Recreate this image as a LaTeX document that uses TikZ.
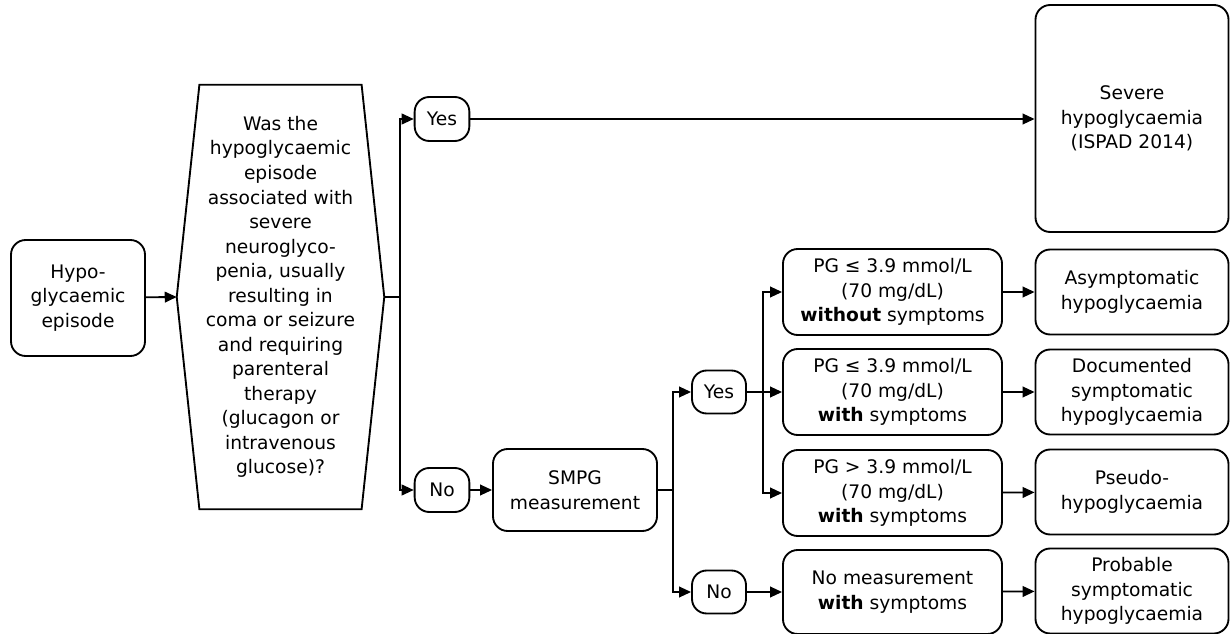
\documentclass[tikz,border=0pt]{standalone}
\usepackage{fontspec}
\setmainfont{DejaVu Sans}
\usetikzlibrary{arrows.meta,positioning}

\tikzset{
  box/.style={draw,rounded corners=11pt,align=center,inner sep=0pt,line width=1.4pt,
    font=\fontsize{14}{18.4}\selectfont},
  ans/.style={box,minimum width=41pt,minimum height=33pt},
  test/.style={box,minimum width=164.25pt,minimum height=64.5pt},
  result/.style={box,minimum width=144.75pt,minimum height=63.75pt},
  link/.style={line width=1.4pt},
  arr/.style={link,-{Triangle[length=9pt,width=8pt]}}
}

\begin{document}
\begin{tikzpicture}[x=0.75pt,y=-0.75pt]
        \useasboundingbox (0,0) rectangle (1230,634);
        % start and question
        \node[box,minimum width=100.5pt,minimum height=87pt] (hypo) at (78,298) {Hypo-\\glycaemic\\episode};
        \node[align=center,inner sep=0pt,minimum width=155.25pt,minimum height=318pt,
              font=\fontsize{14}{18.4}\selectfont] (quest) at (280.5,297)
              {Was the\\hypoglycaemic\\episode\\associated with\\severe\\neuroglyco-\\penia, usually\\resulting in\\coma or seizure\\and requiring\\parenteral\\therapy\\(glucagon or\\intravenous\\glucose)?};
        \draw[link] (quest.west) -- ([xshift=17pt]quest.north west) -- ([xshift=-17pt]quest.north east)
              -- (quest.east) -- ([xshift=-17pt]quest.south east) -- ([xshift=17pt]quest.south west) -- cycle;
        % answers
        \node[ans] (yes) at (442,119) {Yes};
        \node[ans] (no) at (442,490) {No};
        \node[box,minimum width=123pt,minimum height=61.5pt] (smpg) at (575,490) {SMPG\\measurement};
        \node[ans,minimum width=40.5pt,minimum height=32.25pt] (yes2) at (719,392) {Yes};
        \node[ans,minimum width=40.5pt,minimum height=32.25pt] (no2) at (719,592) {No};
        % measurements
        \node[test] (pg1) at (892.5,292) {PG ≤ 3.9 mmol/L\\(70 mg/dL)\\\textbf{without} symptoms};
        \node[test] (pg2) at (892.5,392) {PG ≤ 3.9 mmol/L\\(70 mg/dL)\\\textbf{with} symptoms};
        \node[test] (pg3) at (892.5,493) {PG > 3.9 mmol/L\\(70 mg/dL)\\\textbf{with} symptoms};
        \node[test,minimum height=63pt] (nomeas) at (892.5,592) {No measurement\\\textbf{with} symptoms};
        % outcomes
        \node[result,minimum height=170.25pt] (severe) at (1132,118.5) {Severe\\hypoglycaemia\\(ISPAD 2014)};
        \node[result] (asym) at (1132,292) {Asymptomatic\\hypoglycaemia};
        \node[result] (docu) at (1132,392) {Documented\\symptomatic\\hypoglycaemia};
        \node[result] (pseudo) at (1132,492) {Pseudo-\\hypoglycaemia};
        \node[result] (prob) at (1132,591) {Probable\\symptomatic\\hypoglycaemia};
        % connectors
        \coordinate (fork1) at (400,297);
        \coordinate (fork2) at (673,490);
        \coordinate (fork3) at (763,392);
        \draw[arr] (hypo) -- (quest.west);
        \draw[link] (quest.east) -- (fork1);
        \draw[arr] (fork1) |- (yes.west);
        \draw[arr] (fork1) |- (no.west);
        \draw[arr] (yes) -- (severe.west |- yes);
        \draw[arr] (no) -- (smpg);
        \draw[link] (smpg.east) -- (fork2);
        \draw[arr] (fork2) |- (yes2.west);
        \draw[arr] (fork2) |- (no2.west);
        \draw[link] (yes2.east) -- (fork3);
        \draw[arr] (fork3) |- (pg1.west);
        \draw[arr] (fork3) -- (pg2.west);
        \draw[arr] (fork3) |- (pg3.west);
        \draw[arr] (no2) -- (nomeas.west |- no2);
        \draw[arr] (pg1) -- (asym);
        \draw[arr] (pg2) -- (docu);
        \draw[arr] (pg3) -- (pseudo);
        \draw[arr] (nomeas) -- (prob);
    \end{tikzpicture}
\end{document}
